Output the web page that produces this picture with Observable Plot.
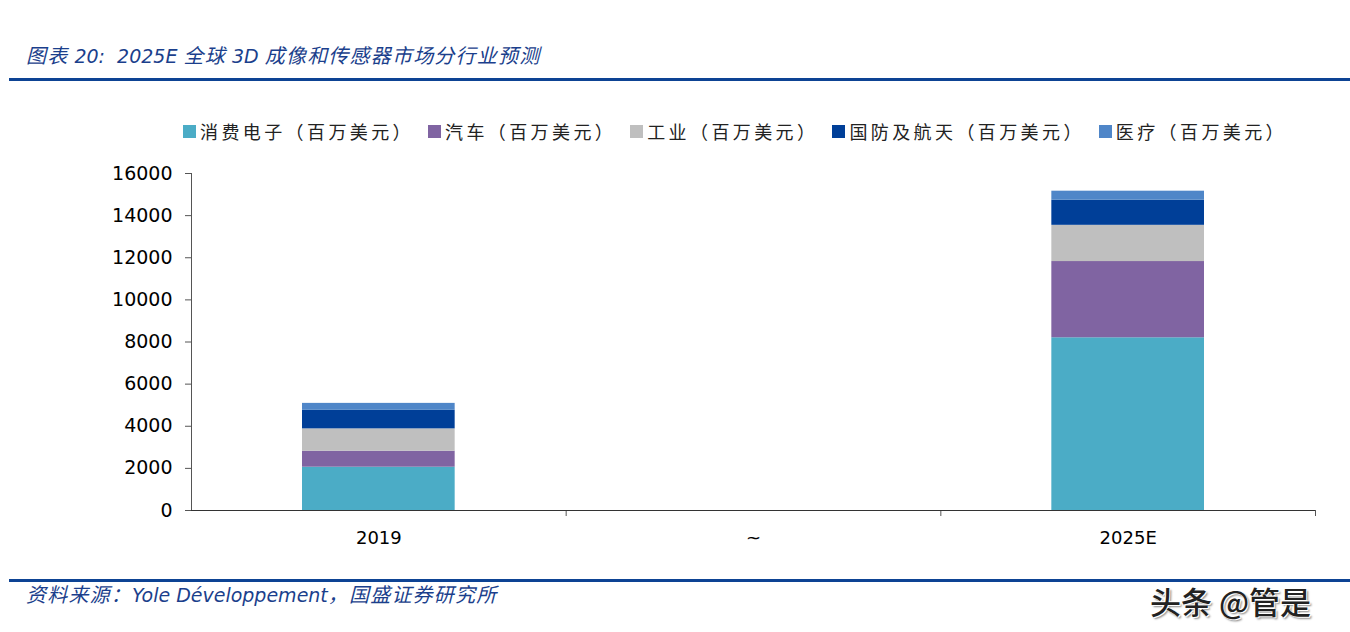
<!DOCTYPE html>
<html><head><meta charset="utf-8">
<script src="https://cdn.jsdelivr.net/npm/d3@7"></script>
<script src="https://cdn.jsdelivr.net/npm/@observablehq/plot@0.6"></script>
<style>
body{margin:0;background:#fff;width:1350px;height:632px;position:relative;overflow:hidden;font-family:"DejaVu Sans","Noto Sans CJK SC",sans-serif;}
.title{position:absolute;left:26px;top:41px;font-size:19px;font-style:italic;color:#1b3f8c;white-space:nowrap;line-height:28px;}
.cj{font-family:"Noto Sans CJK SC",sans-serif;font-size:20px;letter-spacing:1.2px;}
.rule{position:absolute;left:9px;right:0;height:3px;background:#0d4394;}
.legend{position:absolute;left:183px;top:117px;display:flex;align-items:center;white-space:nowrap;font-family:"Noto Sans CJK SC",sans-serif;font-size:18px;letter-spacing:3.4px;color:#222;line-height:28px;}
.legend .item{display:flex;align-items:center;margin-right:14px;}
.legend .sw{width:13px;height:13px;margin-right:4px;}
#chart{position:absolute;left:0;top:150px;}
.source{position:absolute;left:26px;top:580px;font-size:19px;font-style:italic;color:#1b3f8c;white-space:nowrap;line-height:28px;}
.wm{position:absolute;left:1150px;top:578px;font-family:"Noto Sans CJK SC",sans-serif;font-weight:500;font-size:31px;color:#222;white-space:nowrap;text-shadow:-1px -1px 0 #fff,1px 1px 0 #fff,2px 2px 2px #888;}
</style></head>
<body>
<div class="title"><span class="cj">图表</span> 20:&nbsp; 2025E <span class="cj">全球</span> 3D <span class="cj">成像和传感器市场分行业预测</span></div>
<div class="rule" style="top:78px"></div>
<div class="legend" id="legend"></div>
<div id="chart"></div>
<div class="rule" style="top:579px"></div>
<div class="source"><span class="cj">资料来源：</span>Yole Développement<span class="cj">，国盛证券研究所</span></div>
<div class="wm">头条 @管是</div>
<script>
const categories = ["2019", "~", "2025E"];
const seriesNames = ["消费电子（百万美元）", "汽车（百万美元）", "工业（百万美元）", "国防及航天（百万美元）", "医疗（百万美元）"];
const seriesColors = ["#4bacc6", "#8064a2", "#bfbfbf", "#003f98", "#4f86c8"];
const consumer = [2056, null, 8200];
const automotive = [760, null, 3620];
const industrial = [1060, null, 1720];
const defense = [880, null, 1190];
const medical = [330, null, 430];
const yTicks = [0, 2000, 4000, 6000, 8000, 10000, 12000, 14000, 16000];

const seriesValues = [consumer, automotive, industrial, defense, medical];
const rows = [];
categories.forEach((c, i) => {
  seriesValues.forEach((vals, s) => {
    if (vals[i] != null) rows.push({cat: c, i0: i, i1: i + 1, series: seriesNames[s], value: vals[i]});
  });
});
const labelRows = categories.map((c, i) => ({cat: c, mid: i + 0.5}));

// legend
const lg = document.getElementById("legend");
seriesNames.forEach((n, k) => {
  const it = document.createElement("div"); it.className = "item";
  const sw = document.createElement("div"); sw.className = "sw"; sw.style.background = seriesColors[k];
  const tx = document.createElement("span"); tx.textContent = n;
  it.appendChild(sw); it.appendChild(tx); lg.appendChild(it);
});

const plot = Plot.plot({
  width: 1350,
  height: 400,
  marginTop: 23,
  marginBottom: 40,
  marginLeft: 191,
  marginRight: 35,
  style: {fontFamily: "DejaVu Sans, sans-serif", fontSize: "19px", color: "#000", background: "transparent"},
  x: {type: "linear", domain: [0, categories.length], axis: null},
  y: {domain: [0, 16000], axis: null},
  color: {domain: seriesNames, range: seriesColors},
  marks: [
    Plot.rectY(rows, {x1: "i0", x2: "i1", y: "value", fill: "series", insetLeft: 111, insetRight: 111}),
    Plot.axisY({ticks: yTicks, tickSize: 6, tickPadding: 13, tickFormat: d => String(d), label: null, stroke: "#555", fontSize: 19}),
    Plot.axisX({ticks: [1, 2, 3], tickSize: 6, tickFormat: () => "", label: null, stroke: "#555"}),
    Plot.text(labelRows, {x: "mid", y: 0, text: "cat", dy: 28, fontSize: 18, fill: "#000"}),
    Plot.ruleY([0], {stroke: "#333", strokeWidth: 1.2}),
    Plot.ruleX([0], {stroke: "#555", strokeWidth: 1})
  ]
});
document.getElementById("chart").appendChild(plot);
</script>
</body></html>
